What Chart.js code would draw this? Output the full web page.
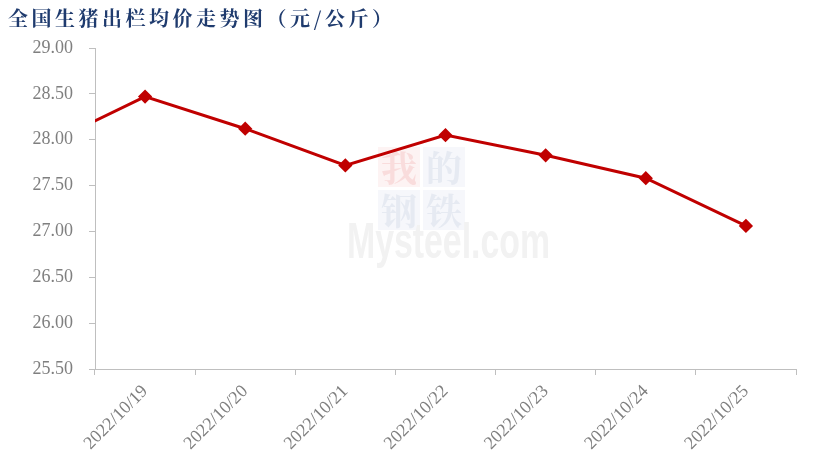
<!DOCTYPE html>
<html><head><meta charset="utf-8">
<script src="https://cdn.jsdelivr.net/npm/chart.js@4/dist/chart.umd.min.js"></script>
<style>html,body{margin:0;padding:0;background:#fff}#wrap{width:816px;height:461px;position:relative}</style>
</head><body><div id="wrap"><canvas id="c"></canvas></div>
<script>
const titleText = '全国生猪出栏均价走势图（元/公斤）';
const categories = ['2022/10/18','2022/10/19','2022/10/20','2022/10/21','2022/10/22','2022/10/23','2022/10/24','2022/10/25'];
const prices = [27.94, 28.47, 28.12, 27.72, 28.05, 27.83, 27.58, 27.06];
const yMin = 25.5, yMax = 29.0, yStep = 0.5;

const titlePlugin = {
  id: 'titleP',
  afterDraw(chart) {
    const ctx = chart.ctx;
    ctx.save();
    ctx.font = 'bold 20px "Noto Serif CJK SC","Noto Sans CJK SC",serif';
    try { ctx.letterSpacing = '3.5px'; } catch (e) {}
    ctx.fillStyle = '#1f3b6e';
    ctx.textBaseline = 'middle';
    ctx.fillText(titleText, 8, 18);
    ctx.restore();
  }
};
const watermark = {
  id: 'wm',
  beforeDatasetsDraw(chart) {
    const ctx = chart.ctx;
    ctx.save();
    ctx.fillStyle = '#fdf3f3'; ctx.fillRect(378, 147, 42, 40);
    ctx.fillStyle = '#f6f7fb'; ctx.fillRect(423, 147, 42, 40);
    ctx.fillRect(378, 190, 42, 40); ctx.fillRect(423, 190, 42, 40);
    ctx.font = 'bold 36px "Noto Serif CJK SC","Noto Sans CJK SC",serif';
    ctx.textAlign = 'center'; ctx.textBaseline = 'middle';
    ctx.fillStyle = '#f9dcdc';
    ctx.fillText('我', 399, 168);
    ctx.fillStyle = '#e6eaf2';
    ctx.fillText('的', 444, 168);
    ctx.fillText('钢', 399, 211); ctx.fillText('铁', 444, 211);
    ctx.fillStyle = '#f2f2f2';
    ctx.font = 'bold 50px "Liberation Sans",sans-serif';
    ctx.textAlign = 'left'; ctx.textBaseline = 'alphabetic';
    ctx.fillText('Mysteel.com', 347, 258, 203);
    ctx.restore();
  }
};

new Chart(document.getElementById('c'), {
  type: 'line',
  data: {
    labels: categories,
    datasets: [{
      data: prices,
      borderColor: '#c00000',
      backgroundColor: '#c00000',
      borderWidth: 3,
      pointStyle: 'rectRot',
      pointRadius: 5,
      pointHoverRadius: 5,
      tension: 0
    }]
  },
  options: {
    responsive: true,
    maintainAspectRatio: false,
    animation: false,
    events: [],
    layout: { padding: { top: 48, right: 20, left: 0, bottom: 0 } },
    plugins: { legend: { display: false }, tooltip: { enabled: false }, title: { display: false } },
    scales: {
      x: {
        type: 'category',
        min: '2022/10/19',
        max: '2022/10/25',
        offset: true,
        grid: { offset: true, drawOnChartArea: false, drawTicks: true, tickLength: 6, color: '#bfbfbf', lineWidth: 1 },
        border: { color: '#bfbfbf', width: 1 },
        ticks: {
          autoSkip: false, maxRotation: 45, minRotation: 45,
          color: '#7f7f7f', padding: 6,
          font: { family: '"Liberation Serif","Times New Roman",serif', size: 18 }
        },
        afterFit(s) { s.height = 92; }
      },
      y: {
        min: yMin, max: yMax,
        grid: { drawOnChartArea: false, drawTicks: true, tickLength: 6, color: '#bfbfbf' },
        border: { color: '#bfbfbf', width: 1 },
        ticks: {
          stepSize: yStep, color: '#7f7f7f', padding: 16,
          font: { family: '"Liberation Serif","Times New Roman",serif', size: 18 },
          callback: v => Number(v).toFixed(2)
        },
        afterFit(s) { s.width = 95; }
      }
    }
  },
  plugins: [titlePlugin, watermark]
});
</script></body></html>
